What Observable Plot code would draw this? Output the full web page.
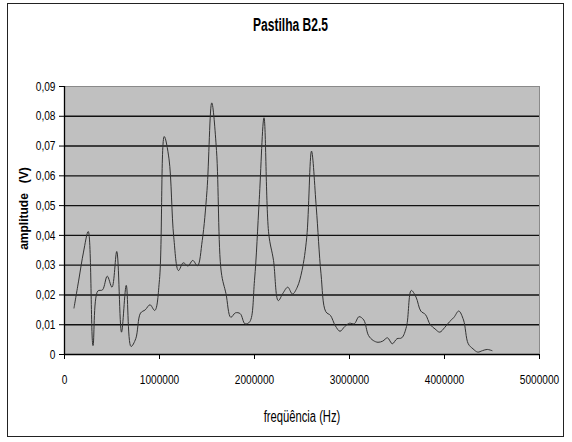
<!DOCTYPE html>
<html>
<head>
<meta charset="utf-8">
<script src="https://cdn.jsdelivr.net/npm/d3@7"></script>
<script src="https://cdn.jsdelivr.net/npm/@observablehq/plot@0.6"></script>
<style>
  html, body { margin: 0; padding: 0; background: #fff; }
  #wrap { position: relative; width: 572px; height: 442px; }
  #border { position: absolute; left: 7px; top: 3px; width: 555px; height: 432px; border: 1px solid #222; }
  #chart { position: absolute; left: 0; top: 0; }
  #chart svg text { white-space: pre; }
</style>
</head>
<body>
<div id="wrap"><div id="border"></div><div id="chart"></div></div>
<script>
const titleText = ["Pastilha B2.5"];
const xLabelText = ["freqüência (Hz)"];
const yLabelText = ["amplitude   (V)"];

const xTicks = [0, 1000000, 2000000, 3000000, 4000000, 5000000];
const yTicks = [0, 0.01, 0.02, 0.03, 0.04, 0.05, 0.06, 0.07, 0.08, 0.09];

const freq = [
  100000, 150000, 200000, 250000, 300000, 350000, 400000, 450000, 500000, 550000,
  600000, 650000, 700000, 750000, 800000, 850000, 900000, 950000, 1000000, 1050000,
  1100000, 1150000, 1200000, 1250000, 1300000, 1350000, 1400000, 1450000, 1500000, 1550000,
  1600000, 1650000, 1700000, 1750000, 1800000, 1850000, 1900000, 1950000, 2000000, 2050000,
  2100000, 2150000, 2200000, 2250000, 2300000, 2350000, 2400000, 2450000, 2500000, 2550000,
  2600000, 2650000, 2700000, 2750000, 2800000, 2850000, 2900000, 2950000, 3000000, 3050000,
  3100000, 3150000, 3200000, 3250000, 3300000, 3350000, 3400000, 3450000, 3500000, 3550000,
  3600000, 3650000, 3700000, 3750000, 3800000, 3850000, 3900000, 3950000, 4000000, 4050000,
  4100000, 4150000, 4200000, 4250000, 4300000, 4350000, 4400000, 4450000, 4500000
];
const amplitude = [
  0.0156, 0.0250, 0.0344, 0.0413, 0.0030, 0.0213, 0.0217, 0.0263, 0.0226, 0.0346,
  0.0075, 0.0232, 0.0027, 0.0053, 0.0139, 0.0150, 0.0167, 0.0148, 0.0252, 0.0732,
  0.0657, 0.0394, 0.0282, 0.0308, 0.0297, 0.0316, 0.0298, 0.0383, 0.0551, 0.0845,
  0.0685, 0.0277, 0.0204, 0.0125, 0.0140, 0.0137, 0.0103, 0.0110, 0.0249, 0.0520,
  0.0795, 0.0405, 0.0316, 0.0181, 0.0206, 0.0226, 0.0203, 0.0226, 0.0282, 0.0394,
  0.0683, 0.0495, 0.0271, 0.0144, 0.0131, 0.0097, 0.0078, 0.0094, 0.0105, 0.0103,
  0.0127, 0.0116, 0.0064, 0.0047, 0.0041, 0.0045, 0.0056, 0.0036, 0.0053, 0.0056,
  0.0094, 0.0215, 0.0193, 0.0146, 0.0134, 0.0100, 0.0086, 0.0075, 0.0090, 0.0109,
  0.0125, 0.0146, 0.0116, 0.0036, 0.0019, 0.0008, 0.0013, 0.0017, 0.0013
];

const data = freq.map((f, i) => ({f, a: amplitude[i]}));
const font = "'Liberation Sans', Arial, sans-serif";

const chart = Plot.plot({
  width: 572,
  height: 442,
  marginLeft: 64,
  marginRight: 33,
  marginTop: 86,
  marginBottom: 88,
  style: {fontFamily: font, fontSize: "13px", background: "transparent", color: "#000", overflow: "visible"},
  x: {domain: [0, 5000000]},
  y: {domain: [0, 0.09]},
  marks: [
    Plot.frame({fill: "#c0c0c0", stroke: "#8a8a8a"}),
    Plot.ruleY(yTicks.filter(t => t > 0 && t < 0.09), {stroke: "#111", strokeWidth: 1.4}),
    Plot.line(data, {x: "f", y: "a", curve: "catmull-rom", stroke: "#333", strokeWidth: 1}),
    Plot.ruleX([0], {stroke: "#000", strokeWidth: 1.3}),
    Plot.ruleY([0], {stroke: "#000", strokeWidth: 1.3}),
    Plot.axisY({ticks: yTicks, tickSize: 5, tickPadding: 4, label: null, stroke: "#000", strokeOpacity: 1, fontSize: 13,
      tickFormat: d => d === 0 ? "0" : d.toFixed(2).replace(".", ",")}),
    Plot.axisX({ticks: xTicks, tickSize: 5, tickPadding: 15, label: null, stroke: "#000", strokeOpacity: 1, fontSize: 13,
      tickFormat: d => String(d)}),
    Plot.text(titleText, {frameAnchor: "top", lineAnchor: "middle", textAnchor: "middle", dx: -11.5, dy: -61,
      text: d => d, fontWeight: "bold", fontSize: 18, fill: "#000"}),
    Plot.text(xLabelText, {frameAnchor: "bottom", lineAnchor: "middle", textAnchor: "middle", dy: 62,
      text: d => d, fontSize: 16, fill: "#000"}),
    Plot.text(yLabelText, {frameAnchor: "left", lineAnchor: "middle", textAnchor: "middle", dx: -40, dy: -12, rotate: -90,
      text: d => d, fontWeight: "bold", fontSize: 12, fill: "#000"})
  ]
});
document.getElementById("chart").appendChild(chart);

// Emulate the narrow (condensed) typeface of the original by squeezing glyphs horizontally.
function squeeze(el, ratio) {
  const w = el.getComputedTextLength();
  if (w > 0) {
    el.setAttribute("textLength", (w * ratio).toFixed(2));
    el.setAttribute("lengthAdjust", "spacingAndGlyphs");
  }
}
chart.querySelectorAll("text").forEach(t => {
  const s = t.textContent;
  if (s === yLabelText[0]) return;
  if (s === titleText[0]) squeeze(t, 0.67);
  else if (s === xLabelText[0]) squeeze(t, 0.70);
  else squeeze(t, 0.78);
});
</script>
</body>
</html>
